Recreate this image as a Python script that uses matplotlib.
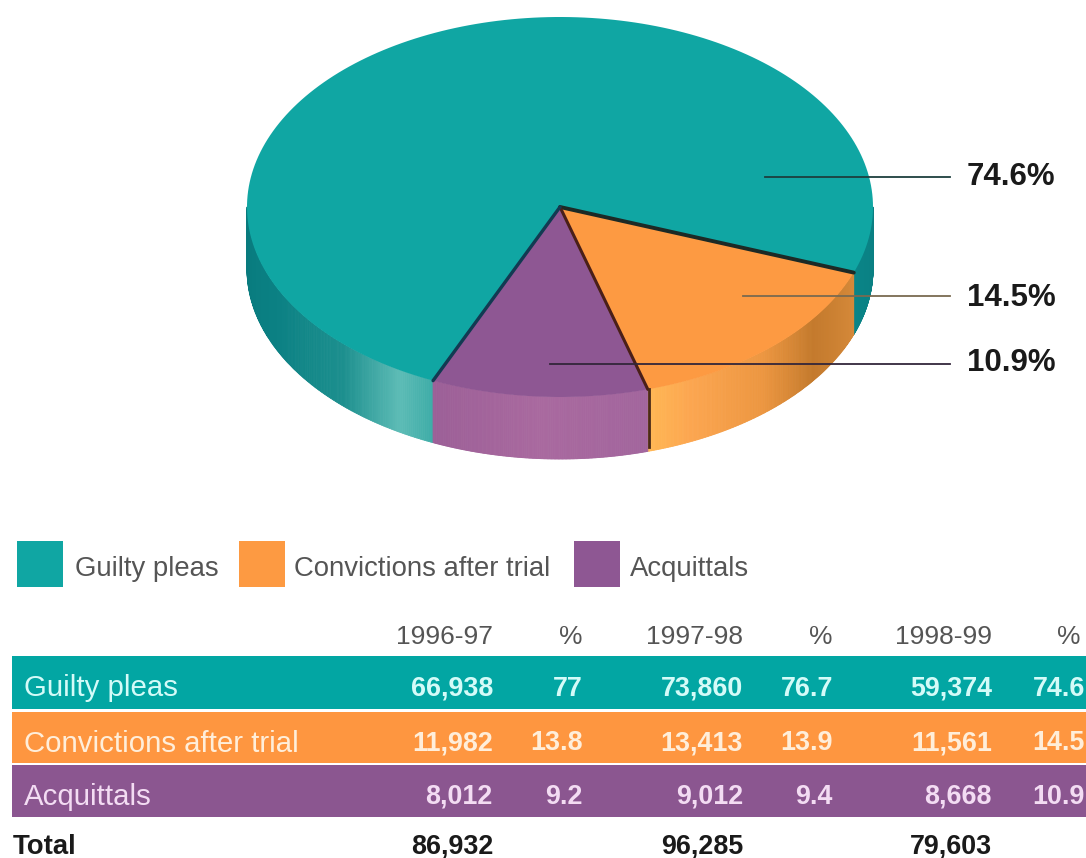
import numpy as np
import matplotlib
matplotlib.use('Agg')
import matplotlib.pyplot as plt
from matplotlib.collections import PolyCollection
from matplotlib.colors import LinearSegmentedColormap

plt.rcParams['font.family'] = ['Liberation Sans', 'DejaVu Sans']

categories = ['Guilty pleas', 'Convictions after trial', 'Acquittals']
years = ['1996-97', '1997-98', '1998-99']
counts_9697 = [66938, 11982, 8012]
counts_9798 = [73860, 13413, 9012]
counts_9899 = [59374, 11561, 8668]
pct_9697 = [77, 13.8, 9.2]
pct_9798 = [76.7, 13.9, 9.4]
pct_9899 = [74.6, 14.5, 10.9]
totals = [86932, 96285, 79603]

TEAL, ORANGE, PURPLE = '#10a6a3', '#fd9a42', '#8e5793'
BAND_COLORS = ['#02a6a3', '#fe9640', '#8b5690']
BAND_TEXT = ['#d4fbf8', '#ffeeda', '#f3dcf3']

# pie geometry in pixels
CX, CY, RX, RY, DEPTH = 560, 207, 313, 190, 62
START = 20.2  # where the orange slice begins, degrees clockwise from 3 o'clock
STRETCH = 1.025  # the drawn small slices are a touch wider than their share


def arc(t0, t1, n=200):
    t = np.radians(np.linspace(t0, t1, n))
    return CX + RX * np.cos(t), CY + RY * np.sin(t)


def top_slice(ax, t0, t1, color):
    x, y = arc(t0, t1)
    ax.fill(np.r_[CX, x], np.r_[CY, y], color=color, lw=0, zorder=3)


def side_wall(ax, t0, t1, stops, n=160):
    # wall under the rim, shaded along its length
    cmap = LinearSegmentedColormap.from_list('wall', stops)
    x, y = arc(t0, t1, n + 1)
    polys = []
    for i in range(n):
        polys.append([(x[i], y[i]), (x[i + 1], y[i + 1]),
                      (x[i + 1], y[i + 1] + DEPTH), (x[i], y[i] + DEPTH)])
    cols = cmap(np.linspace(0, 1, n))
    ax.add_collection(PolyCollection(polys, facecolors=cols, edgecolors=cols, linewidths=0.6, zorder=2))


fig = plt.figure(figsize=(10.86, 8.58), dpi=100)
ax = fig.add_axes([0, 0, 1, 1])
ax.set_xlim(0, 1086)
ax.set_ylim(858, 0)
ax.axis('off')

# slice limits come from the 1998-99 percentages
a_orange = START + 3.6 * pct_9899[1] * STRETCH
a_purple = a_orange + 3.6 * pct_9899[2] * STRETCH
a_teal = START + 360

side_wall(ax, 0, START, [(0, '#0a7f82'), (1, '#0a8487')])
side_wall(ax, a_purple, 180, [(0, '#3fada8'), (0.1, '#5dbcb6'), (0.3, '#1c8f8e'), (0.6, '#0b8184'), (1, '#087a7d')])
side_wall(ax, START, a_orange, [(0, '#d5893a'), (0.3, '#c47a2c'), (0.55, '#ec9640'), (0.85, '#fca650'), (1, '#ffb754')])
side_wall(ax, a_orange, a_purple, [(0, '#a2659d'), (0.5, '#a9699f'), (1, '#9c5f97')])

top_slice(ax, a_purple, a_teal, TEAL)
top_slice(ax, START, a_orange, ORANGE)
top_slice(ax, a_orange, a_purple, PURPLE)

# dark seams between the slices
for ang, col, lw in [(START, '#1c2a26', 2.8), (a_orange, '#4a1f18', 2.2), (a_purple, '#123a52', 2.4)]:
    x, y = arc(ang, ang, 1)
    ax.plot([CX, x[0]], [CY, y[0]], color=col, lw=lw, solid_capstyle='round', zorder=4)
x, y = arc(a_orange, a_orange, 1)
ax.plot([x[0] + 1, x[0] + 1], [y[0], y[0] + DEPTH - 4], color='#4a2a18', lw=2, zorder=4)

# leader lines and percentage labels
leaders = [(765, 177, '#1d3f3e', 177), (743, 296, '#7a6a50', 298), (550, 364, '#33263a', 363)]
for (x0, yy, col, ty), p in zip(leaders, pct_9899):
    ax.plot([x0, 950], [yy, yy], color=col, lw=1.3, zorder=5)
    ax.text(967, ty, f'{p}%', fontsize=22.5, fontweight='bold', color='#1a1a1a', va='center', zorder=5)

# legend
legend_x = [17, 239, 574]
text_x = [75, 294, 630]
for i, name in enumerate(categories):
    ax.fill([legend_x[i], legend_x[i] + 46, legend_x[i] + 46, legend_x[i]], [541, 541, 587, 587], color=[TEAL, ORANGE, PURPLE][i], lw=0)
    ax.text(text_x[i], 569, name, fontsize=19.8, color='#555555', va='center')

# table
col_right = [493, 583, 743, 833, 992, 1085]
band_top = [656, 712, 765]
band_bot = [709, 763, 817]
for i, name in enumerate(categories):
    ax.fill([12, 1086, 1086, 12], [band_top[i], band_top[i], band_bot[i], band_bot[i]], color=BAND_COLORS[i], lw=0)
    ym = (band_top[i] + band_bot[i]) / 2 + 6
    ax.text(24, ym, name, fontsize=21.2, color=BAND_TEXT[i], va='center')
    vals = [f'{counts_9697[i]:,}', f'{pct_9697[i]:g}', f'{counts_9798[i]:,}', f'{pct_9798[i]:g}', f'{counts_9899[i]:,}', f'{pct_9899[i]:g}']
    for xr, v in zip(col_right, vals):
        ax.text(xr, ym, v, fontsize=19.4, fontweight='bold', color=BAND_TEXT[i], va='center', ha='right')

for j, yr in enumerate(years):
    ax.text(col_right[2 * j], 637, yr, fontsize=19, color='#555555', va='center', ha='right')
    ax.text(col_right[2 * j + 1] - (4 if j == 2 else 0), 637, '%', fontsize=19, color='#555555', va='center', ha='right')
    ax.text(col_right[2 * j], 847, f'{totals[j]:,}', fontsize=19.4, fontweight='bold', color='#1a1a1a', va='center', ha='right')
ax.text(13, 847, 'Total', fontsize=19.8, fontweight='bold', color='#1a1a1a', va='center')

fig.savefig('out.png', dpi=100)
